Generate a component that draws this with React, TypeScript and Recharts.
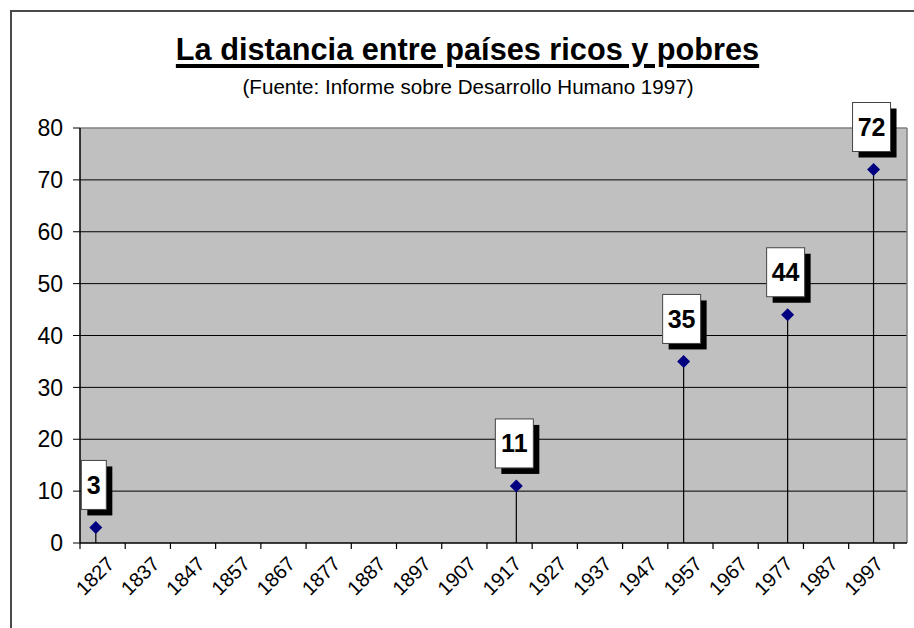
import React from "react";
import {
  ComposedChart,
  Scatter,
  XAxis,
  YAxis,
  CartesianGrid,
  ReferenceLine,
} from "recharts";

// gap between rich and poor countries (UNDP HDR 1997)
const YEARS = [1820, 1913, 1950, 1973, 1992];
const RATIOS = [3, 11, 35, 44, 72];
const X_LABELS = [
  "1827", "1837", "1847", "1857", "1867", "1877", "1887", "1897", "1907",
  "1917", "1927", "1937", "1947", "1957", "1967", "1977", "1987", "1997",
];
const Y_TICKS = [0, 10, 20, 30, 40, 50, 60, 70, 80];

const X_START = 1816.5;
const X_END = 1999.4;
const STEP = 10;

const CHART_W = 914;
const CHART_H = 628;
const Y_AXIS_W = 80;
const MARGIN = { top: 128, right: 7, left: 0, bottom: 25 };
const PLOT_W = CHART_W - Y_AXIS_W - MARGIN.left - MARGIN.right;
const HALF_STEP_PX = (PLOT_W / (X_END - X_START)) * (STEP / 2);

const data = YEARS.map((year, i) => ({ year, ratio: RATIOS[i] }));
const bandEdges = [...X_LABELS.map((_, i) => X_START + STEP * i), X_START + STEP * X_LABELS.length];

const FONT = "Arial, 'Liberation Sans', sans-serif";

function YearTick(props: any) {
  const { x, y, index } = props;
  const label = X_LABELS[index];
  if (!label) return <g />;
  const ax = x + HALF_STEP_PX + 13;
  const ay = y + 14;
  return (
    <text
      x={ax}
      y={ay}
      transform={`rotate(-45 ${ax} ${ay})`}
      textAnchor="end"
      fontSize={20}
      fontFamily={FONT}
      fill="#000"
    >
      {label}
    </text>
  );
}

function PointWithLabel(props: any) {
  const { cx, cy, payload } = props;
  const text = String(payload.ratio);
  const w = text.length * 13 + 12;
  const h = 49;
  const bx = cx - 2 - w / 2;
  const by = cy - 18 - h;
  const d = 6.5;
  return (
    <g>
      <polygon
        points={`${cx},${cy - d} ${cx + d},${cy} ${cx},${cy + d} ${cx - d},${cy}`}
        fill="#000080"
      />
      <rect x={bx + 6} y={by + 6} width={w} height={h} fill="#000" />
      <rect x={bx} y={by} width={w} height={h} fill="#fff" stroke="#444" strokeWidth={1} />
      <text
        x={bx + w / 2}
        y={by + h / 2 + 9}
        textAnchor="middle"
        fontSize={25}
        fontWeight="bold"
        fontFamily={FONT}
        fill="#000"
      >
        {text}
      </text>
    </g>
  );
}

export default function App() {
  return (
    <div style={{ position: "absolute", left: 0, top: 0, width: CHART_W, height: CHART_H, background: "#fff", overflow: "hidden", fontFamily: FONT }}>
      <div
        style={{
          position: "absolute",
          left: 10,
          top: 10,
          width: 940,
          height: 660,
          border: "2px solid #4a4a4a",
        }}
      />
      <div
        style={{
          position: "absolute",
          left: 0,
          width: 935,
          top: 35,
          textAlign: "center",
          fontSize: 30.7,
          lineHeight: "30px",
          fontWeight: "bold",
          textDecoration: "underline",
          textDecorationThickness: 4,
          textUnderlineOffset: 4,
        }}
      >
        La distancia entre países ricos y pobres
      </div>
      <div
        style={{
          position: "absolute",
          left: 0,
          width: 936,
          top: 77,
          textAlign: "center",
          fontSize: 20.6,
          lineHeight: "20px",
        }}
      >
        (Fuente: Informe sobre Desarrollo Humano 1997)
      </div>
      <div style={{ position: "absolute", left: 0, top: 0 }}>
        <ComposedChart width={CHART_W} height={CHART_H} data={data} margin={MARGIN}>
          <CartesianGrid
            vertical={false}
            horizontalValues={Y_TICKS.filter((v) => v > 0 && v < 80)}
            stroke="#000"
            strokeOpacity={1}
            fill="#C0C0C0"
            fillOpacity={1}
          />
          <XAxis
            dataKey="year"
            type="number"
            domain={[X_START, X_END]}
            ticks={bandEdges}
            interval={0}
            height={60}
            tickSize={6}
            axisLine={{ stroke: "#000", strokeWidth: 1.5 }}
            tickLine={{ stroke: "#000", strokeWidth: 1.2 }}
            tick={<YearTick />}
          />
          <YAxis
            type="number"
            domain={[0, 80]}
            ticks={Y_TICKS}
            interval={0}
            width={Y_AXIS_W}
            tickSize={7}
            tickMargin={10}
            axisLine={{ stroke: "#000", strokeWidth: 1.5 }}
            tickLine={{ stroke: "#000" }}
            tick={{ fill: "#000", fontSize: 23, fontFamily: FONT }}
          />
          <ReferenceLine y={80} stroke="#808080" strokeWidth={1.5} />
          <ReferenceLine x={X_END} stroke="#808080" strokeWidth={1.5} />
          {data.map((d) => (
            <ReferenceLine
              key={d.year}
              segment={[
                { x: d.year, y: 0 },
                { x: d.year, y: d.ratio },
              ]}
              stroke="#000"
              strokeWidth={1.2}
            />
          ))}
          <Scatter dataKey="ratio" isAnimationActive={false} shape={<PointWithLabel />} />
        </ComposedChart>
      </div>
    </div>
  );
}
